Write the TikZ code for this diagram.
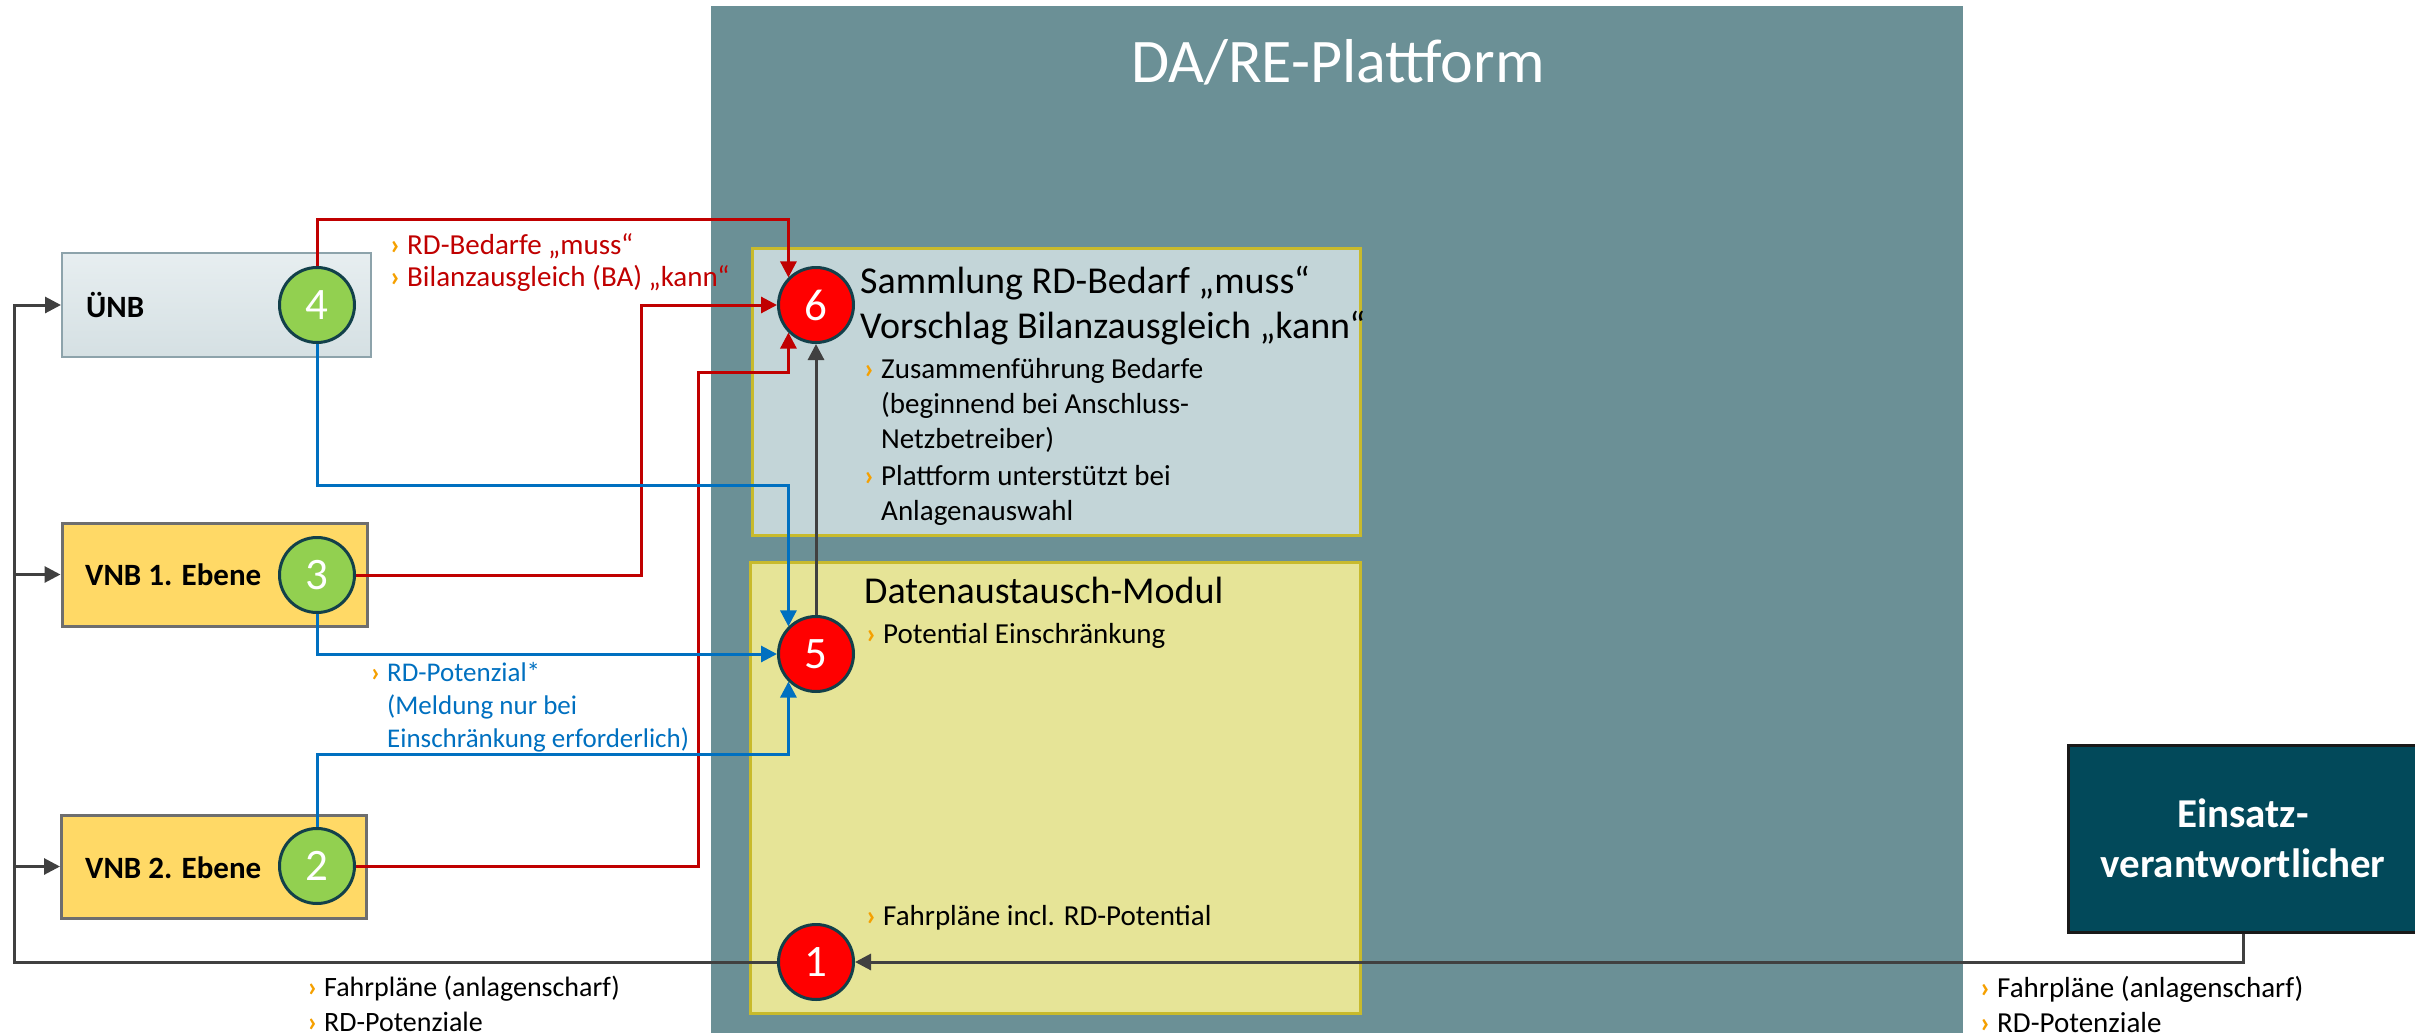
\documentclass[tikz,border=0pt]{standalone}
\usepackage{fontspec}
\setmainfont{Carlito}
\usepackage{xcolor}
\usepackage{tikz}
\usetikzlibrary{arrows.meta}
\usetikzlibrary{calc}
\newcommand*\fsize[2]{\fontsize{#1}{#2}\selectfont}
\newcommand*\orangebullet{\llap{\textcolor{bulletorange}{\bfseries ›}\hspace{7pt}}}
\definecolor{platformteal}{HTML}{6B9096}
\definecolor{sammelfill}{HTML}{C3D5D8}
\definecolor{modulfill}{HTML}{E6E497}
\definecolor{moduldraw}{HTML}{C8BA2C}
\definecolor{vnbfill}{HTML}{FFD966}
\definecolor{vnbdraw}{HTML}{6E6E6E}
\definecolor{unbtop}{HTML}{E7EEF0}
\definecolor{unbbottom}{HTML}{D5E0E3}
\definecolor{unbdraw}{HTML}{8DA3AB}
\definecolor{evfill}{HTML}{02495A}
\definecolor{circgreen}{HTML}{92D050}
\definecolor{circred}{HTML}{FF0000}
\definecolor{circdraw}{HTML}{12404A}
\definecolor{flowred}{HTML}{C00000}
\definecolor{flowblue}{HTML}{0070C0}
\definecolor{flowgray}{HTML}{404040}
\definecolor{bulletorange}{HTML}{F5A000}
\tikzset{
    numcirc/.style={circle, minimum size=75pt, inner sep=0pt, draw=circdraw, line width=3pt, text=white, font=\fsize{45}{50}},
    greencirc/.style={numcirc, fill=circgreen},
    redcirc/.style={numcirc, fill=circred},
    vnbbox/.style={rectangle, inner sep=0pt, fill=vnbfill, draw=vnbdraw, line width=3pt, minimum width=305pt, minimum height=103pt},
    unbbox/.style={rectangle, inner sep=0pt, top color=unbtop, bottom color=unbbottom, draw=unbdraw, line width=2pt, minimum width=309pt, minimum height=104pt},
    platbox/.style={rectangle, inner sep=0pt, draw=moduldraw, line width=3pt},
    actorlabel/.style={anchor=west, inner sep=0pt, font=\bfseries\fsize{31}{36}},
    headtext/.style={anchor=north west, align=left, inner sep=0pt, font=\fsize{38}{45}},
    itemtext/.style={anchor=north west, align=left, inner sep=0pt, font=\fsize{29}{35}},
    redtext/.style={anchor=north west, align=left, inner sep=0pt, text=flowred, font=\fsize{29}{32}},
    bluetext/.style={anchor=north west, align=left, inner sep=0pt, text=flowblue, font=\fsize{27}{33}},
    arrowtip/.style={-{Triangle[length=16pt,width=16pt]}},
    redflow/.style={flowred, line width=3pt, arrowtip},
    blueflow/.style={flowblue, line width=3pt, arrowtip},
    grayflow/.style={flowgray, line width=3pt, arrowtip},
}

\begin{document}
\begin{tikzpicture}[x=1pt, y=-1pt]
    \useasboundingbox (0,0) rectangle (2415,1033);
    \fill[platformteal] (711,6) rectangle (1963,1033);
    \node[text=white, font=\fsize{62}{70}] (nodeTitle) at (1338,62) {DA/RE-Plattform};
    %
    \coordinate (vertexC1) at (816,962);
    \coordinate (vertexC2) at (317,866);
    \coordinate (vertexC3) at (317,575);
    \coordinate (vertexC4) at (317,305);
    \coordinate (vertexC5) at (816,654);
    \coordinate (vertexC6) at (816,305);
    %
    \node[platbox, fill=sammelfill, minimum width=608pt, minimum height=287pt] (nodeSammlung) at (1056,391.5) {};
    \node[platbox, fill=modulfill, minimum width=610pt, minimum height=451pt] (nodeModul) at (1055,787.5) {};
    \node[unbbox] (nodeUNB) at (216.5,305) {};
    \node[vnbbox] (nodeVNB1) at (214.5,574.5) {};
    \node[vnbbox] (nodeVNB2) at (214,866.5) {};
    \node[rectangle, fill=evfill, draw=black!90, line width=3pt, minimum width=350pt, minimum height=187pt,
        align=center, text=white, font=\bfseries\fsize{41}{50}] (nodeEV) at (2243,838.5) {Einsatz-\\verantwortlicher};
    %
    \node[actorlabel] (labelUNB) at (86,305) {ÜNB};
    \node[actorlabel] (labelVNB1) at (85,575) {VNB 1. Ebene};
    \node[actorlabel] (labelVNB2) at (85,868) {VNB 2. Ebene};
    %
    \node[headtext] (textSammlung) at (860,266) {Sammlung RD-Bedarf „muss“\\Vorschlag Bilanzausgleich „kann“};
    \node[itemtext] (textZusammen) at (881,358) {\orangebullet Zusammenführung Bedarfe\\(beginnend bei Anschluss-\\Netzbetreiber)\\[2pt]\orangebullet Plattform unterstützt bei\\Anlagenauswahl};
    \node[headtext] (textModul) at (864,577) {Datenaustausch-Modul};
    \node[itemtext] (textEinschr) at (883,623) {\orangebullet Potential Einschränkung};
    \node[itemtext] (textFahrplan) at (883,905) {\orangebullet Fahrpläne incl. RD-Potential};
    \node[redtext] (labelBedarf) at (407,233) {\orangebullet RD-Bedarfe „muss“\\\orangebullet Bilanzausgleich (BA) „kann“};
    \node[bluetext] (labelPotenzial) at (387,662) {\orangebullet RD-Potenzial*\\(Meldung nur bei\\Einschränkung erforderlich)};
    \node[itemtext, font=\fsize{28}{35}] (textLinks) at (324,976) {\orangebullet Fahrpläne (anlagenscharf)\\\orangebullet RD-Potenziale};
    \node[itemtext] (textRechts) at (1997,976) {\orangebullet Fahrpläne (anlagenscharf)\\\orangebullet RD-Potenziale};
    %
    \node[redcirc] at (vertexC1) (nodeC1) {1};
    \node[greencirc] at (vertexC2) (nodeC2) {2};
    \node[greencirc] at (vertexC3) (nodeC3) {3};
    \node[greencirc] at (vertexC4) (nodeC4) {4};
    \node[redcirc] at (vertexC5) (nodeC5) {5};
    \node[redcirc] at (vertexC6) (nodeC6) {6};
    %
    \coordinate (yRedTop) at (0,219);
    \coordinate (yRedLow) at (0,372);
    \coordinate (xRedMid) at (641,0);
    \coordinate (xRedOut) at (698,0);
    \coordinate (yBlueTop) at (0,485);
    \coordinate (yBlueLow) at (0,754);
    \coordinate (xTrunk) at (14,0);
    %
    \draw[redflow] (nodeC4.north) |- (nodeC6.135 |- yRedTop) -- (nodeC6.135);
    \draw[redflow] (nodeC3.east) -| (xRedMid |- nodeC6.west) -- (nodeC6.west);
    \draw[redflow] (nodeC2.east) -| (xRedOut |- yRedLow) -| (nodeC6.225);
    \draw[blueflow] (nodeC4.south) |- (nodeC5.135 |- yBlueTop) -- (nodeC5.135);
    \draw[blueflow] (nodeC3.south) |- (nodeC5.west);
    \draw[blueflow] (nodeC2.north) |- (nodeC5.225 |- yBlueLow) -- (nodeC5.225);
    \draw[grayflow] (nodeC5.north) -- (nodeC6.south);
    \draw[grayflow] (nodeEV.south) |- (nodeC1.east);
    \draw[grayflow] (nodeC1.west) -| (xTrunk |- nodeUNB.west) -- (nodeUNB.west);
    \draw[grayflow] (xTrunk |- nodeVNB1.west) -- (nodeVNB1.west);
    \draw[grayflow] (xTrunk |- nodeVNB2.west) -- (nodeVNB2.west);
\end{tikzpicture}
\end{document}
